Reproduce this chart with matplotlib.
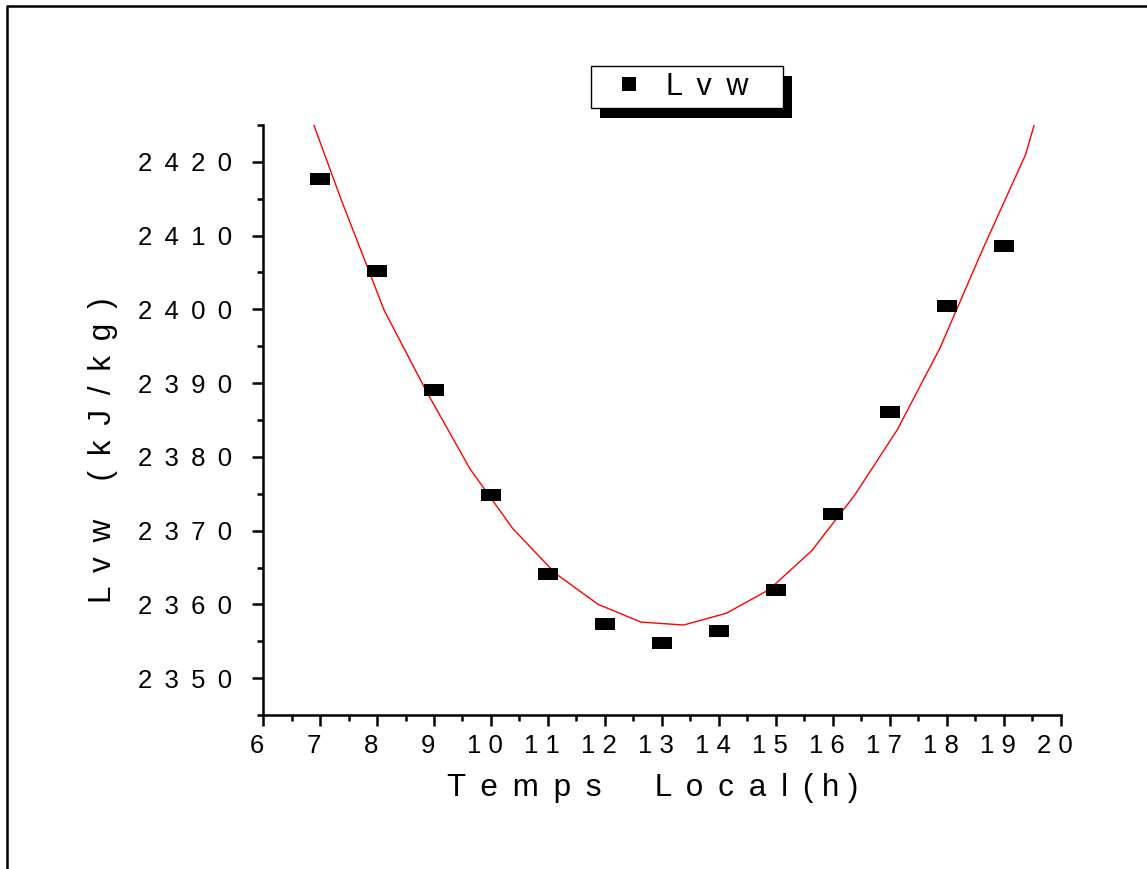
import matplotlib
matplotlib.use("Agg")
import matplotlib.patheffects as pe
import matplotlib.pyplot as plt
from matplotlib.lines import Line2D
from matplotlib.ticker import FuncFormatter, MultipleLocator

plt.rcParams["font.family"] = ["Liberation Sans", "DejaVu Sans"]

# measured latent heat of vaporisation over the day
hours = [7, 8, 9, 10, 11, 12, 13, 14, 15, 16, 17, 18, 19]
lvw = [2417.7, 2405.2, 2389.0, 2374.8, 2364.1, 2357.3, 2354.7,
       2356.4, 2362.0, 2372.3, 2386.1, 2400.4, 2408.6]

# fitted curve, sampled at its polyline vertices
fit_hours = [6.63, 7.38, 8.13, 8.88, 9.63, 10.38, 11.13, 11.88, 12.63, 13.38,
             14.13, 14.88, 15.63, 16.38, 17.13, 17.88, 18.63, 19.38, 20.13]
fit_lvw = [2430.5, 2414.7, 2399.8, 2388.7, 2378.4, 2370.3, 2364.2, 2360.0,
           2357.6, 2357.2, 2358.8, 2362.0, 2367.3, 2374.8, 2383.7, 2394.8,
           2408.2, 2421.0, 2441.0]

GAP = " \u2009"  # wide letter spacing


def spaced(text, gap=GAP):
    return gap.join(text)


fig = plt.figure(figsize=(11.47, 8.69), dpi=100)
ax = fig.add_axes([0.2293, 0.1772, 0.6957, 0.6790])

# flat rectangular marker, wider than tall
rect = [(-1, -0.53), (1, -0.53), (1, 0.53), (-1, 0.53), (-1, -0.53)]
ax.plot(hours, lvw, ls="none", marker=rect, ms=15.1, color="black",
        mew=0, zorder=3)
ax.plot(fit_hours, fit_lvw, color="red", lw=1.0, zorder=2)

ax.set_xlim(6, 20)
ax.set_ylim(2345, 2425)
ax.xaxis.set_major_locator(MultipleLocator(1))
ax.xaxis.set_minor_locator(MultipleLocator(0.5))
ax.yaxis.set_major_locator(MultipleLocator(10))
ax.yaxis.set_minor_locator(MultipleLocator(5))
ax.xaxis.set_major_formatter(
    FuncFormatter(lambda v, p: spaced(str(int(round(v))), " ") + GAP))
ax.yaxis.set_major_formatter(
    FuncFormatter(lambda v, p: spaced(str(int(round(v))))))

for side in ("top", "right"):
    ax.spines[side].set_visible(False)
for side in ("left", "bottom"):
    ax.spines[side].set_linewidth(1.8)
ax.tick_params(which="major", direction="out", length=8, width=1.8,
               labelsize=18.5)
ax.tick_params(which="minor", direction="out", length=4.5, width=1.8)
ax.tick_params(axis="y", which="major", pad=14.5)
ax.tick_params(axis="x", which="major", pad=6)

fig.text(653 / 1147, 1 - 788 / 869,
         spaced("Temps") + GAP * 3 + " " + spaced("Local") + GAP
         + spaced("(h)", " "),
         fontsize=22.5, ha="center", va="center")
fig.text(103 / 1147, 1 - 450 / 869,
         spaced("Lvw") + GAP * 2 + " " + spaced("(kJ/kg)"),
         fontsize=22.5, ha="center", va="center", rotation=90)

handle = Line2D([], [], ls="none", marker="s", ms=9.4, mew=0, color="black")
leg = ax.legend([handle], [spaced("Lvw") + GAP * 2], loc="center",
                bbox_to_anchor=(687 / 1147, 1 - 87 / 869),
                bbox_transform=fig.transFigure, fontsize=22,
                frameon=True, fancybox=False, edgecolor="black",
                framealpha=1, borderpad=0.2, handlelength=2.1,
                handletextpad=0.15)
leg.get_frame().set_linewidth(1.0)
leg.get_frame().set_path_effects([
    pe.SimplePatchShadow(offset=(6.5, -7), shadow_rgbFace="black", alpha=1.0),
    pe.Normal(),
])

# page frame along the top and left edges
fig.add_artist(Line2D([7 / 1147, 7 / 1147, 1], [0, 1 - 6 / 869, 1 - 6 / 869],
                      transform=fig.transFigure, color="black", lw=1.8))

fig.savefig("out.png", dpi=100)
